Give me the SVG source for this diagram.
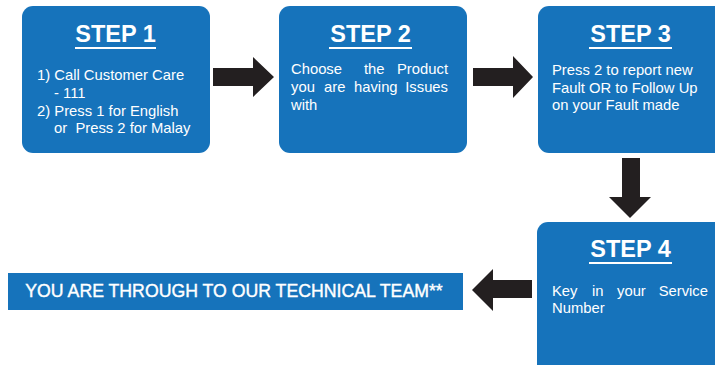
<svg xmlns="http://www.w3.org/2000/svg" width="715" height="365" viewBox="0 0 715 365">
<style>
.box{fill:#1673bb;}
.title{font-family:"Liberation Sans",Arial,sans-serif;font-weight:bold;font-size:23.5px;fill:#fff;text-anchor:middle;}
.ul{stroke:#fff;stroke-width:2;}
.body{font-family:"Liberation Sans",Arial,sans-serif;font-size:14.8px;fill:#fff;}
.end{text-anchor:end;}
.arrow{fill:#231f20;}
.final{font-family:"Liberation Sans",Arial,sans-serif;font-size:17.7px;fill:#fff;stroke:#fff;stroke-width:0.4;text-anchor:middle;}
</style>
<rect width="715" height="365" fill="#fff"/>
<g id="connectors">
<polygon class="arrow" points="213,68 253,68 253,57 274,77 253,97 253,86 213,86"/>
<polygon class="arrow" points="473,68 513,68 513,56 533,77 513,98 513,86 473,86"/>
<polygon class="arrow" points="622,158 640,158 640,197 651,197 630,218 609,197 622,197"/>
<polygon class="arrow" points="532,280 493,280 493,269 472,290 493,311 493,298 532,298"/>
</g>
<g id="step1">
<rect class="box" x="22" y="6" width="188" height="147" rx="11"/>
<text class="title" x="115.5" y="42">STEP 1</text>
<line class="ul" x1="75" y1="48" x2="156" y2="48"/>
<text class="body" x="37" y="80">1) Call Customer Care</text>
<text class="body" x="54" y="98">- 111</text>
<text class="body" x="37" y="116">2) Press 1 for English</text>
<text class="body" x="54" y="133" xml:space="preserve">or  Press 2 for Malay</text>
</g>
<g id="step2">
<rect class="box" x="279" y="6" width="188" height="147" rx="11"/>
<text class="title" x="370.5" y="42">STEP 2</text>
<line class="ul" x1="329" y1="48" x2="412" y2="48"/>
<text class="body" x="291" y="74">Choose</text>
<text class="body" x="364" y="74">the</text>
<text class="body end" x="448" y="74">Product</text>
<text class="body" x="291" y="92">you</text>
<text class="body" x="324" y="92">are</text>
<text class="body" x="354" y="92">having</text>
<text class="body end" x="448" y="92">Issues</text>
<text class="body" x="291" y="110">with</text>
</g>
<g id="step3">
<rect class="box" x="538" y="6" width="190" height="147" rx="11"/>
<text class="title" x="630.5" y="42">STEP 3</text>
<line class="ul" x1="589" y1="48" x2="672" y2="48"/>
<text class="body" x="552" y="75">Press 2 to report new</text>
<text class="body" x="552" y="93">Fault OR to Follow Up</text>
<text class="body" x="552" y="110">on your Fault made</text>
</g>
<g id="step4">
<rect class="box" x="537" y="222" width="190" height="160" rx="11"/>
<text class="title" x="630.5" y="257">STEP 4</text>
<line class="ul" x1="589" y1="263" x2="672" y2="263"/>
<text class="body" x="552" y="296">Key</text>
<text class="body" x="592" y="296">in</text>
<text class="body" x="617" y="296">your</text>
<text class="body end" x="708" y="296">Service</text>
<text class="body" x="552" y="313">Number</text>
</g>
<g id="final">
<rect class="box" x="8" y="273" width="455" height="37"/>
<text class="final" x="234" y="297">YOU ARE THROUGH TO OUR TECHNICAL TEAM**</text>
</g>
</svg>
